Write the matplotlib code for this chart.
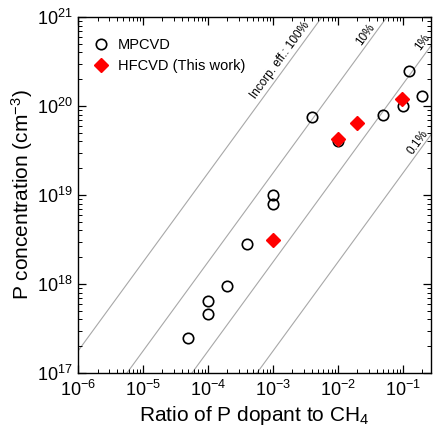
import numpy as np
import matplotlib
matplotlib.use("Agg")
import matplotlib.pyplot as plt

plt.rcParams['font.family'] = ['Liberation Sans', 'DejaVu Sans']
plt.rcParams['mathtext.fontset'] = 'custom'
plt.rcParams['mathtext.rm'] = 'Liberation Sans'
plt.rcParams['mathtext.it'] = 'Liberation Sans:italic'
plt.rcParams['mathtext.bf'] = 'Liberation Sans:bold'

# Data
mpcvd_ratio = [5e-5, 1e-4, 1e-4, 2e-4, 4e-4, 1e-3, 1e-3, 4e-3, 1e-2, 5e-2, 0.1, 0.125, 0.2]
mpcvd_conc = [2.5e17, 4.6e17, 6.5e17, 9.6e17, 2.8e18, 8e18, 1e19, 7.5e19, 4e19, 8e19, 1e20, 2.5e20, 1.3e20]
hfcvd_ratio = [1e-3, 1e-2, 2e-2, 0.097]
hfcvd_conc = [3.1e18, 4.3e19, 6.5e19, 1.2e20]
efficiencies = [1.0, 0.1, 0.01, 0.001]
eff_labels = ["Incorp. eff.: 100%", "10%", "1%", "0.1%"]
carbon_density = 1.76e23
label_x = [1.3e-3, 0.027, 0.2, 0.17]
label_y = [3.3e20, 6.3e20, 5.2e20, 3.9e19]

fig = plt.figure(figsize=(4.33, 4.32), dpi=100)
ax = fig.add_axes([0.18, 0.1366, 0.815, 0.824])
ax.set_xscale('log')
ax.set_yscale('log')
xmin, xmax = 1e-6, 10**(-0.57)
ymin, ymax = 1e17, 1e21
ax.set_xlim(xmin, xmax)
ax.set_ylim(ymin, ymax)

xs = np.logspace(-7, 1, 200)
for eff in efficiencies:
    ax.plot(xs, eff * carbon_density * xs, color='#a8a8a8', lw=0.8, zorder=1)

for txt, lx, ly in zip(eff_labels, label_x, label_y):
    ax.text(lx, ly, txt, rotation=53.9, rotation_mode='anchor', ha='center', va='center',
            fontsize=8.5, color='black')

ax.plot(mpcvd_ratio, mpcvd_conc, 'o', mfc='none', mec='black', mew=1.2, ms=7.5,
        label='MPCVD', zorder=3)
ax.plot(hfcvd_ratio, hfcvd_conc, 'D', mfc='red', mec='red', ms=7, label='HFCVD (This work)', zorder=4)

ax.legend(loc='upper left', bbox_to_anchor=(-0.02, 1.0), frameon=False, fontsize=10.5,
          handletextpad=0.55, borderaxespad=1.05, labelspacing=0.45, handlelength=1.2)

ax.set_xlabel('Ratio of P dopant to CH$_4$', fontsize=15, labelpad=3)
ax.set_ylabel('P concentration (cm$^{-3}$)', fontsize=15, labelpad=1.5)
ax.tick_params(which='both', direction='in', top=True, right=True, labelsize=13)
ax.tick_params(axis='x', which='major', pad=5)
ax.tick_params(which='major', length=6, width=0.9)
ax.tick_params(which='minor', length=3, width=0.7)
ax.xaxis.set_major_locator(matplotlib.ticker.LogLocator(base=10, numticks=20))
ax.xaxis.set_minor_locator(matplotlib.ticker.LogLocator(base=10, subs=np.arange(2, 10), numticks=20))
ax.yaxis.set_minor_locator(matplotlib.ticker.LogLocator(base=10, subs=np.arange(2, 10), numticks=20))
ax.xaxis.set_minor_formatter(matplotlib.ticker.NullFormatter())
ax.yaxis.set_minor_formatter(matplotlib.ticker.NullFormatter())
for s in ax.spines.values():
    s.set_linewidth(1.0)

fig.savefig('out.png', dpi=100)
